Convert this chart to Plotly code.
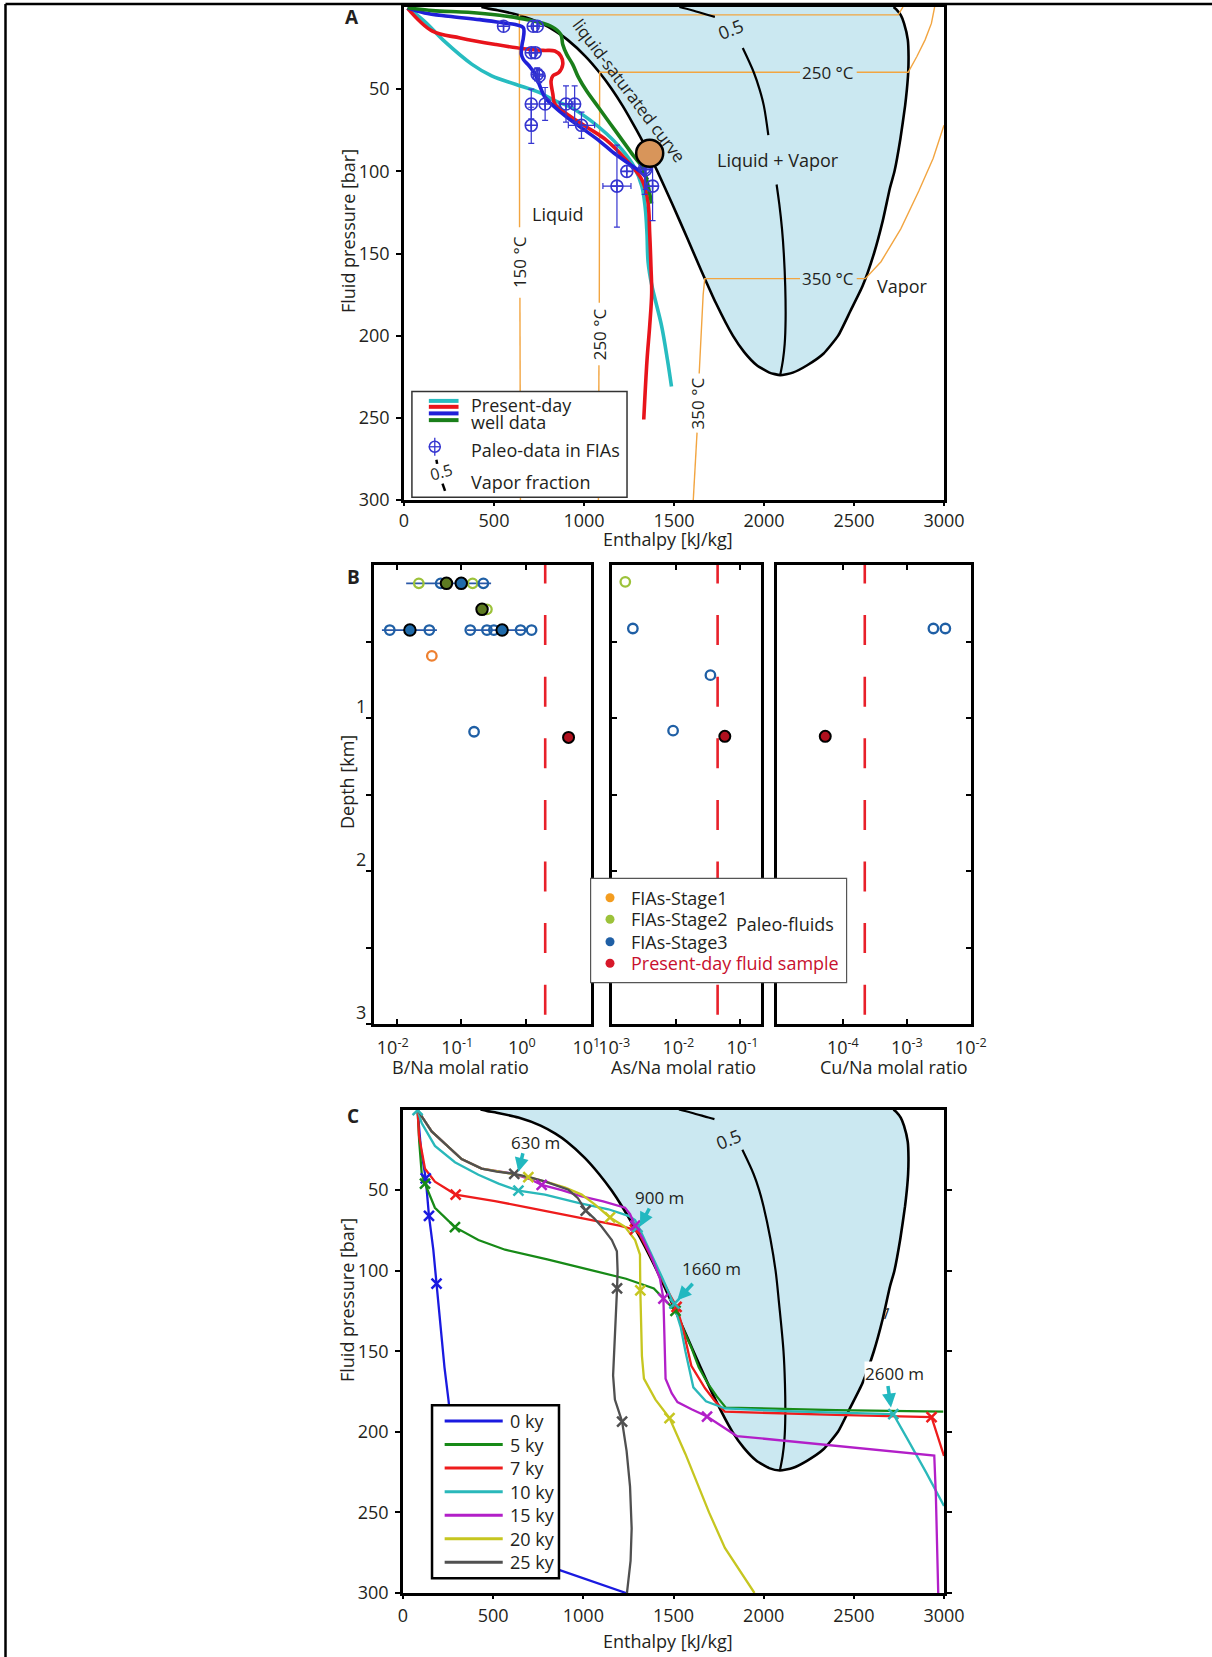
import plotly.graph_objects as go

W, H = 1212, 1657
def fx(px): return px / W
def fy(py): return 1 - py / H

FONT = "Open Sans"
TXT = "#231f20"
FILL = "#cbe8f1"
ISO = "#f2a541"

# ---------------- two-phase dome (enthalpy kJ/kg, pressure bar) ----------------
dome_liq_h = [430, 470, 520, 640, 763, 845, 909, 1008, 1087, 1155, 1214, 1267, 1317, 1364, 1408,
              1491, 1571, 1650, 1732, 1827, 1890, 1960, 2030, 2090]
dome_liq_p = [0, 1, 2, 5, 10, 15, 20, 30, 40, 50, 60, 70, 80, 90, 100,
              120, 140, 160, 180, 200, 210, 218, 222.5, 224]
dome_vap_h = [2160, 2240, 2330, 2412, 2480, 2547, 2611, 2660, 2700, 2725, 2758, 2784, 2794, 2801,
              2803, 2799, 2778, 2760, 2735, 2720]
dome_vap_p = [222.5, 218, 211, 200, 185, 170, 150, 130, 110, 100, 80, 60, 50, 40,
              30, 20, 10, 5, 1.5, 0]

# vapor fraction 0.5 line
vfA_h = [1530, 1600, 1694, 1727, None, 1882, 1944, 1975, 1999, 2024, None, 2070, 2085, 2100, 2110, 2118, 2120, 2115, 2105, 2090]
vfA_p = [0, 2, 5, 6, None, 25, 40, 50, 60, 78, None, 108, 120, 135, 150, 170, 190, 205, 215, 224]
vfC_h = [1530, 1600, 1694, 1727, None, 1882, 1944, 1975, 1999, 2037, 2066, 2085, 2110, 2118, 2120, 2115, 2105, 2090]
vfC_p = [0, 2, 5, 6, None, 25, 40, 50, 60, 80, 100, 120, 150, 170, 190, 205, 215, 224]

# isotherms (panel A)
iso150_h = [647, 644, None, 642, 641, 2746, 2772]
iso150_p = [300, 177, None, 134, 4.8, 4.8, 0]
iso250_h = [1080, 1083, None, 1085, 1087, 2200, None, 2515, 2801, 2850, 2895, 2930, 2948]
iso250_p = [300, 218, None, 180, 39.7, 39.7, None, 39.7, 39.7, 30, 20, 10, 0]
iso350_h = [1607, 1618, 1628, None, 1640, 1662, 1671, 2200, None, 2515, 2563, 2650, 2760, 2860, 2940, 3000]
iso350_p = [300, 275, 259, None, 223, 175, 165.3, 165.3, None, 165.3, 165.3, 155, 135, 112, 92, 72]

# present-day well data (panel A)
wc_h = [20, 114, 224, 378, 487, 619, 751, 838, 926, 1036, 1124, 1212, 1277, 1321, 1340, 1350, 1356, 1376, 1431, 1464, 1486]
wc_p = [0.5, 8.7, 20.8, 34.9, 41.9, 47, 52, 57, 61, 69, 77, 87, 97, 109, 122, 138, 155, 169, 194, 215, 231]
wr_h = [20, 158, 312, 509, 663, 773, 838, 871, 882, 860, 827, 817, 827, 838, 904, 1014, 1124, 1234, 1321, 1354, 1365, 1372, 1376, 1365, 1350, 1332]
wr_p = [0.8, 14.7, 18.8, 22.8, 25.4, 26.4, 26.8, 29.8, 34.9, 39.9, 41.9, 45, 53, 59, 65, 73, 81, 93, 105, 117.5, 138, 158, 174, 194, 215, 251]
wb_h = [20, 114, 246, 421, 553, 619, 663, 663, 656, 652, 663, 696, 729, 751, 784, 838, 904, 992, 1080, 1168, 1245, 1321, 1354]
wb_p = [0.5, 3.6, 5.6, 7.7, 9.7, 10.7, 12.7, 18.8, 22.8, 28.8, 31.9, 35.9, 40.9, 47, 55, 61, 67, 74, 81, 89, 95, 101, 105]
wg_h = [20, 158, 356, 531, 685, 817, 871, 882, 904, 937, 970, 1014, 1080, 1146, 1212, 1278, 1321, 1343, 1365, 1376]
wg_p = [0.5, 2.2, 3.2, 5, 7.7, 11.7, 16.7, 22.8, 28.8, 34.9, 43, 51, 61, 71, 81, 91, 97, 103, 113.5, 119.6]

# paleo data in FIAs (panel A)
pal_h = [553, 718, 740, 707, 729, 740, 751, 707, 784, 900, 948, 707, 986, 1238, 1337, 1343, 1183, 1381]
pal_p = [11.7, 11.7, 11.7, 27.8, 27.8, 41, 42, 59, 59, 59, 59, 72, 72, 100, 98, 99, 109, 109]
pal_eh = [0, 0, 0, 0, 0, 0, 0, 0, 0, 38, 0, 0, 73, 0, 0, 0, 78, 0]
pal_ep = [0, 0, 0, 0, 0, 4, 4, 9, 10, 11, 11, 11, 8, 0, 16, 12, 25, 21]
big_h = [1365]
big_p = [89]

# ---------------- panel B ----------------
depth_ticks = [0.5, 1, 1.5, 2, 2.5, 3]
depth_labels_km = ["1", "2", "3"]
b_s2o_x = [0.022, 0.15, 0.25]
b_s2o_d = [0.12, 0.12, 0.29]
b_s2m_x = [0.059, 0.21]
b_s2m_d = [0.12, 0.29]
b_s3o_x = [0.048, 0.22, 0.0078, 0.032, 0.138, 0.25, 0.32, 0.83, 1.23, 0.158]
b_s3o_d = [0.12, 0.12, 0.425, 0.425, 0.425, 0.425, 0.425, 0.425, 0.425, 1.09]
b_s3m_x = [0.10, 0.016, 0.43]
b_s3m_d = [0.12, 0.425, 0.425]
b_rng_x = [0.014, 0.29, None, 0.0059, 0.042, None, 0.123, 1.0]
b_rng_d = [0.12, 0.12, None, 0.425, 0.425, None, 0.425, 0.425]
b_s1o_x = [0.035]
b_s1o_d = [0.594]
b_pd_x = [4.6]
b_pd_d = [1.127]
b_ref = 2.0

as_s2o_x = [0.0016]
as_s2o_d = [0.11]
as_s3o_x = [0.0021, 0.034, 0.0089]
as_s3o_d = [0.415, 0.72, 1.083]
as_pd_x = [0.057]
as_pd_d = [1.12]
as_ref = 0.044

cu_s3o_x = [0.0026, 0.004]
cu_s3o_d = [0.415, 0.415]
cu_pd_x = [5.3e-5]
cu_pd_d = [1.12]
cu_ref = 2.2e-4

# ---------------- panel C ----------------
c_labels = ["0 ky", "5 ky", "7 ky", "10 ky", "15 ky", "20 ky", "25 ky"]
c_colors = ["#1a1ae0", "#178a17", "#ee1c1c", "#2ab8ba", "#b21fc8", "#c6c620", "#505050"]
c_h = [
    [81, 100, 126, 144, 168, 186, 230, 252, 300, 420, 821, 1237],
    [81, 90, 104, 122, 177, 288, 418, 566, 800, 1018, 1237, 1391, 1434, 1480, 1511, 1540, 1566, 1600, 1640, 1690, 1740, 1790, 2400, 2996],
    [81, 89, 122, 177, 292, 510, 695, 880, 1065, 1200, 1286, 1305, 1360, 1420, 1480, 1517, 1550, 1599, 1640, 1675, 1730, 1785, 2400, 2931, 3000],
    [81, 104, 177, 288, 418, 530, 640, 787, 972, 1139, 1250, 1287, 1320, 1380, 1440, 1500, 1540, 1566, 1590, 1610, 1680, 1785, 2200, 2719, 2800, 2900, 3000],
    [81, 159, 325, 436, 603, 700, 769, 880, 991, 1110, 1231, 1259, 1287, 1330, 1380, 1425, 1444, 1448, 1452, 1456, 1490, 1522, 1600, 1686, 1851, 2400, 2946, 2955, 2962, 2968],
    [81, 159, 325, 436, 560, 695, 800, 900, 991, 1065, 1148, 1231, 1287, 1314, 1316, 1320, 1325, 1336, 1400, 1478, 1566, 1697, 1785, 1949],
    [81, 159, 325, 436, 520, 603, 700, 790, 917, 970, 1013, 1060, 1102, 1158, 1186, 1190, 1187, 1180, 1170, 1165, 1175, 1215, 1240, 1259, 1268, 1262, 1242],
]
c_p = [
    [0.4, 25, 42.7, 66, 87, 108, 160, 180, 230, 270, 284, 300],
    [0.4, 20, 40, 46, 61, 73, 81, 87, 93, 99, 105, 111, 116, 121, 125, 132, 139.5, 148, 160, 170, 178, 185, 186.5, 187.5],
    [0.4, 16.5, 36.7, 44.8, 52.8, 56.8, 60.9, 65, 69, 72, 74.6, 76, 88, 102, 115, 122.4, 135, 159, 167, 173, 181, 187.5, 189.5, 190.9, 215],
    [0.4, 8.5, 22.6, 32.7, 40.5, 46, 50.4, 52.8, 57.9, 61.9, 66, 68.6, 76, 90, 105, 120.5, 135, 150, 162, 172.4, 181, 185.5, 187.5, 189, 205, 225, 246],
    [0.4, 13.6, 30.7, 36.7, 39.7, 43, 46.8, 50, 53.9, 57, 60.9, 64.9, 72, 80, 92, 105, 117.3, 135, 153, 167, 176, 181.5, 186, 190.5, 202.6, 208.7, 214.7, 240, 270, 300],
    [0.4, 13.6, 30.7, 36.7, 39, 42, 45, 48.5, 52.8, 59, 67, 72.8, 81, 90, 112.3, 140, 153, 167, 180, 191.5, 213.7, 250, 272, 300],
    [0.4, 13.6, 30.7, 36.7, 38.5, 39.7, 42, 44.8, 49.8, 55, 62.7, 67.5, 72.8, 81, 88, 100, 111, 130, 150, 165, 180, 193.6, 212, 234, 260, 280, 300],
]
c_mk_h = [
    [126, 144, 186],
    [122, 288, 1511],
    [292, 1286, 1517, 2931],
    [81, 640, 1300, 1505, 2719],
    [769, 1287, 1444, 1686],
    [695, 1148, 1316, 1478],
    [617, 1013, 1187, 1215],
]
c_mk_p = [
    [42.7, 66, 108],
    [46, 73, 125],
    [52.8, 74.6, 122.4, 190.9],
    [0.4, 50.4, 73, 120.5, 189],
    [46.8, 72, 117.3, 190.5],
    [42, 67, 112.3, 191.5],
    [40, 62.7, 111, 193.6],
]
depth_labels = ["630 m", "900 m", "1660 m", "2600 m"]
depth_tip_h = [640, 1314, 1521, 2706]
depth_tip_p = [38.7, 72.6, 118.4, 184.9]
depth_tail_h = [667, 1370, 1614, 2688]
depth_tail_p = [26.2, 60.5, 107.2, 170.7]
depth_lab_h = [732, 1421, 1712, 2728]
depth_lab_p = [20.2, 54.8, 98.8, 163.7]

fig = go.Figure()

def add_dome(xa, ya):
    fig.add_trace(go.Scatter(x=dome_liq_h + dome_vap_h, y=dome_liq_p + dome_vap_p, xaxis=xa, yaxis=ya,
                             mode="lines", fill="toself", fillcolor=FILL,
                             line=dict(color="black", width=2.6, shape="spline", smoothing=0.5),
                             hoverinfo="skip", showlegend=False))

def line(x, y, xa, ya, color, width, shape="linear", dash=None):
    fig.add_trace(go.Scatter(x=x, y=y, xaxis=xa, yaxis=ya, mode="lines", connectgaps=False,
                             line=dict(color=color, width=width, shape=shape, dash=dash),
                             hoverinfo="skip", showlegend=False))

# ---------- Panel A ----------
add_dome("x", "y")
for hh, pp in [(iso150_h, iso150_p), (iso250_h, iso250_p), (iso350_h, iso350_p)]:
    line(hh, pp, "x", "y", ISO, 1.4)
line(vfA_h, vfA_p, "x", "y", "black", 2.2, "spline")
line(wc_h, wc_p, "x", "y", "#27bcc0", 3.6, "spline")
line(wr_h, wr_p, "x", "y", "#e8141b", 3.6, "spline")
line(wb_h, wb_p, "x", "y", "#2020d8", 3.6, "spline")
line(wg_h, wg_p, "x", "y", "#1a7f1a", 3.6, "spline")
fig.add_trace(go.Scatter(x=pal_h, y=pal_p, xaxis="x", yaxis="y", mode="markers",
                         marker=dict(symbol="circle-cross-open", size=12, color="#3535d0", line=dict(width=1.6)),
                         error_x=dict(type="data", array=pal_eh, color="#3535d0", thickness=1.2, width=3),
                         error_y=dict(type="data", array=pal_ep, color="#3535d0", thickness=1.2, width=3),
                         hoverinfo="skip", showlegend=False))
fig.add_trace(go.Scatter(x=big_h, y=big_p, xaxis="x", yaxis="y", mode="markers",
                         marker=dict(size=27, color="#d8955a", line=dict(color="black", width=2.5)),
                         hoverinfo="skip", showlegend=False))

# ---------- Panel B ----------
OPEN_W = 2.3
def pts(x, d, xa, ya, color, filled=False, size=None):
    if filled:
        mk = dict(symbol="circle", size=size or 11.5, color=color, line=dict(color="black", width=2))
    else:
        mk = dict(symbol="circle-open", size=size or 9.5, color=color, line=dict(width=OPEN_W))
    fig.add_trace(go.Scatter(x=x, y=d, xaxis=xa, yaxis=ya, mode="markers", marker=mk,
                             hoverinfo="skip", showlegend=False))

C1, C2, C3, CR = "#ee8030", "#9cc23a", "#1f5fa5", "#b0101e"
for xa, ya, ref in [("x2", "y2", b_ref), ("x3", "y3", as_ref), ("x4", "y4", cu_ref)]:
    line([ref, ref], [3, 0], xa, ya, "#e8202a", 2.6, dash="0px,9.3px,30px,22.3px")
line(b_rng_x, b_rng_d, "x2", "y2", "#2a58a8", 1.8)
pts(b_s2o_x, b_s2o_d, "x2", "y2", C2)
pts(b_s3o_x, b_s3o_d, "x2", "y2", C3)
pts(b_s1o_x, b_s1o_d, "x2", "y2", C1)
pts(b_s2m_x, b_s2m_d, "x2", "y2", "#5d7a22", True)
pts(b_s3m_x, b_s3m_d, "x2", "y2", "#1f6aaa", True)
pts(b_pd_x, b_pd_d, "x2", "y2", CR, True, 11)
pts(as_s2o_x, as_s2o_d, "x3", "y3", C2)
pts(as_s3o_x, as_s3o_d, "x3", "y3", C3)
pts(as_pd_x, as_pd_d, "x3", "y3", CR, True, 11)
pts(cu_s3o_x, cu_s3o_d, "x4", "y4", C3)
pts(cu_pd_x, cu_pd_d, "x4", "y4", CR, True, 11)

# ---------- Panel C ----------
add_dome("x5", "y5")
line(vfC_h, vfC_p, "x5", "y5", "black", 2.2, "spline")
for i in range(len(c_labels)):
    line(c_h[i], c_p[i], "x5", "y5", c_colors[i], 2.3)
for i in range(len(c_labels)):
    fig.add_trace(go.Scatter(x=c_mk_h[i], y=c_mk_p[i], xaxis="x5", yaxis="y5", mode="markers",
                             marker=dict(symbol="x-thin", size=10, color=c_colors[i],
                                         line=dict(color=c_colors[i], width=2.5)),
                             hoverinfo="skip", showlegend=False))

# ---------- axes ----------
tickfont = dict(family=FONT, size=18, color=TXT)
def ax(**kw):
    d = dict(showline=True, linecolor="black", linewidth=2.6, mirror=True, showgrid=False, zeroline=False,
             tickfont=tickfont, tickcolor="black", tickwidth=1.5, ticks="outside", ticklen=5,
             automargin=False)
    d.update(kw)
    return d

enth_ticks = [0, 500, 1000, 1500, 2000, 2500, 3000]
p_ticks = [50, 100, 150, 200, 250, 300]
layout_axes = dict(
    xaxis=ax(domain=[fx(404), fx(944)], range=[0, 3000], tickvals=enth_ticks, anchor="y", ticklen=3,
             ticklabelstandoff=0),
    yaxis=ax(domain=[fy(500), fy(7)], range=[300, 0], tickvals=p_ticks, anchor="x", ticklabelstandoff=3),
    xaxis2=ax(type="log", domain=[fx(373.5), fx(590.5)], range=[-2.36, 1.003], anchor="y2",
              tickvals=[0.01, 0.1, 1, 10], ticktext=["10<sup>-2</sup>", "10<sup>-1</sup>", "10<sup>0</sup>", "10<sup>1</sup>"],
              ticks="inside", mirror="ticks", ticklen=5, ticklabelstandoff=6, ticklabelshift=-4),
    yaxis2=ax(domain=[fy(1024), fy(565)], range=[3, 0], anchor="x2", tickvals=depth_ticks,
              showticklabels=False, ticks="outside"),
    xaxis3=ax(type="log", domain=[fx(612), fx(761)], range=[-3.003, -0.68], anchor="y3",
              tickvals=[0.001, 0.01, 0.1], ticktext=["10<sup>-3</sup>", "10<sup>-2</sup>", "10<sup>-1</sup>"],
              ticks="inside", mirror="ticks", ticklen=5, ticklabelstandoff=6, ticklabelshift=2),
    yaxis3=ax(domain=[fy(1024), fy(565)], range=[3, 0], anchor="x3", tickvals=depth_ticks,
              showticklabels=False, ticks="inside"),
    xaxis4=ax(type="log", domain=[fx(777), fx(971)], range=[-5.03, -1.997], anchor="y4",
              tickvals=[1e-4, 1e-3, 1e-2], ticktext=["10<sup>-4</sup>", "10<sup>-3</sup>", "10<sup>-2</sup>"],
              ticks="inside", mirror="ticks", ticklen=5, ticklabelstandoff=6),
    yaxis4=ax(domain=[fy(1024), fy(565)], range=[3, 0], anchor="x4", side="right",
              tickvals=depth_ticks, showticklabels=False, ticks="inside"),
    xaxis5=ax(domain=[fx(403), fx(944)], range=[0, 3000], tickvals=enth_ticks, anchor="y5", ticklen=3,
              ticklabelstandoff=2),
    yaxis5=ax(domain=[fy(1593), fy(1109.5)], range=[300, 0], tickvals=p_ticks, anchor="x5", mirror="ticks",
              ticklabelstandoff=3),
)

# ---------- annotations ----------
ann = []
def T(text, x, y, xref="paper", yref="paper", size=18, color=TXT, angle=0, xanchor="center",
      bold=False, bg=None):
    a = dict(text=("<b>%s</b>" % text) if bold else text, x=x, y=y, xref=xref, yref=yref, showarrow=False,
             font=dict(family=FONT, size=size, color=color), textangle=angle, xanchor=xanchor,
             yanchor="middle", borderpad=0)
    if bg:
        a["bgcolor"] = bg
    ann.append(a)

# panel letters
T("A", fx(352), fy(17), size=19, bold=True)
T("B", fx(353), fy(577), size=19, bold=True)
T("C", fx(353), fy(1116), size=19, bold=True)
# axis titles
T("Fluid pressure [bar]", fx(348), fy(231), angle=-90)
T("Enthalpy [kJ/kg]", fx(668), fy(539))
T("Depth [km]", fx(347), fy(782), angle=-90)
T("B/Na molal ratio", fx(460), fy(1067))
T("As/Na molal ratio", fx(683), fy(1067))
T("Cu/Na molal ratio", fx(894), fy(1067))
T("Fluid pressure [bar]", fx(347), fy(1300), angle=-90)
T("Enthalpy [kJ/kg]", fx(668), fy(1641))
# depth tick labels of panel B (drawn slightly above their ticks, as in the original)
for lab, yy in zip(depth_labels_km, [706, 859, 1012]):
    T(lab, fx(367), fy(yy), xanchor="right")

# panel A texts
T("liquid-saturated curve", 1250, 51, "x", "y", size=17, angle=53)
T("Liquid + Vapor", 2079, 93, "x", "y")
T("Liquid", 856, 126, "x", "y")
T("Vapor", 2770, 170, "x", "y")
T("0.5", 1815, 13.5, "x", "y", angle=-22)
T("150 °C", 641, 155, "x", "y", size=17, angle=-90)
T("250 °C", 1085, 199, "x", "y", size=17, angle=-90)
T("350 °C", 1630, 241, "x", "y", size=17, angle=-90)
T("250 °C", 2358, 39.7, "x", "y", size=17)
T("350 °C", 2358, 165.3, "x", "y", size=17)
# panel A legend texts
T("Present-day", 367, 242.0, "x", "y", xanchor="left")
T("well data", 367, 252.8, "x", "y", xanchor="left")
T("Paleo-data in FIAs", 367, 269.6, "x", "y", xanchor="left")
T("Vapor fraction", 367, 289, "x", "y", xanchor="left")
T("0.5", 206, 283, "x", "y", size=16, angle=-15)

# panel B legend texts
bl_rows = [897.7, 919.3, 941.7, 963.3]
bl_text = ["FIAs-Stage1", "FIAs-Stage2", "FIAs-Stage3", "Present-day fluid sample"]
bl_tcol = [TXT, TXT, TXT, "#c8102e"]
bl_dcol = ["#f39c1f", "#9cc23a", "#1f5fa5", "#d7182a"]
for r, t, c in zip(bl_rows, bl_text, bl_tcol):
    T(t, fx(629.6), fy(r), color=c, xanchor="left")
T("Paleo-fluids", fx(734.6), fy(924), xanchor="left")

# panel C texts
T("0.5", 1807, 18.5, "x5", "y5", angle=-22)
T("1", 2680, 126, "x5", "y5", size=16, angle=20)
for lab, hx, py in zip(depth_labels, depth_lab_h, depth_lab_p):
    T(lab, hx, py, "x5", "y5", size=17, bg="white" if lab == "2600 m" else None)
for th, tp, sh, sp in zip(depth_tip_h, depth_tip_p, depth_tail_h, depth_tail_p):
    ann.append(dict(x=th, y=tp, ax=sh, ay=sp, xref="x5", yref="y5", axref="x5", ayref="y5", text="",
                    showarrow=True, arrowhead=2, arrowsize=0.8, arrowwidth=3.5, arrowcolor="#22b8c0"))
cl_rows = [193.3, 207.9, 222.5, 237.1, 251.7, 266.3, 280.9]
for r, t in zip(cl_rows, c_labels):
    T(t, 586, r, "x5", "y5", xanchor="left")

# ---------- shapes ----------
shapes = []
# figure frame (top and left)
shapes.append(dict(type="line", xref="paper", yref="paper", x0=fx(5.5), x1=1, y0=fy(4), y1=fy(4),
                   line=dict(color="black", width=2.5)))
shapes.append(dict(type="line", xref="paper", yref="paper", x0=fx(5.5), x1=fx(5.5), y0=fy(4), y1=0,
                   line=dict(color="black", width=2.5)))
# panel A legend
shapes.append(dict(type="rect", xref="x", yref="y", x0=44, x1=1239, y0=234, y1=298.4, layer="above",
                   fillcolor="white", line=dict(color="#333", width=1.5)))
for yy, cc in zip([239.7, 243.3, 247.3, 251.4], ["#27bcc0", "#e8141b", "#2020d8", "#1a7f1a"]):
    shapes.append(dict(type="line", xref="x", yref="y", x0=138, x1=303, y0=yy, y1=yy, layer="above",
                       line=dict(color=cc, width=4)))
shapes.append(dict(type="circle", xref="x", yref="y", xsizemode="pixel", ysizemode="pixel",
                   xanchor=171, yanchor=267.6, x0=-5.5, x1=5.5, y0=-5.5, y1=5.5, layer="above",
                   line=dict(color="#3535d0", width=1.5)))
shapes.append(dict(type="line", xref="x", yref="y", xsizemode="pixel", ysizemode="pixel",
                   xanchor=171, yanchor=267.6, x0=0, x1=0, y0=-9, y1=9, layer="above",
                   line=dict(color="#3535d0", width=1.3)))
shapes.append(dict(type="line", xref="x", yref="y", xsizemode="pixel", ysizemode="pixel",
                   xanchor=171, yanchor=267.6, x0=-6, x1=6, y0=0, y1=0, layer="above",
                   line=dict(color="#3535d0", width=1.3)))
shapes.append(dict(type="line", xref="x", yref="y", x0=180, x1=184, y0=275.5, y1=278, layer="above",
                   line=dict(color="black", width=2.5)))
shapes.append(dict(type="line", xref="x", yref="y", x0=214, x1=228, y0=290, y1=294.5, layer="above",
                   line=dict(color="black", width=2.5)))
# panel B legend
shapes.append(dict(type="rect", xref="paper", yref="paper", x0=fx(590.6), x1=fx(846.6), y0=fy(982.7),
                   y1=fy(878.3), layer="above", fillcolor="white", line=dict(color="#555", width=1.2)))
for r, c in zip(bl_rows, bl_dcol):
    shapes.append(dict(type="circle", xref="paper", yref="paper", xsizemode="pixel", ysizemode="pixel",
                       xanchor=fx(610), yanchor=fy(r), x0=-4.5, x1=4.5, y0=-4.5, y1=4.5, layer="above",
                       fillcolor=c, line=dict(color=c, width=0)))
# panel C legend
shapes.append(dict(type="rect", xref="x5", yref="y5", x0=161, x1=865, y0=183.5, y1=290.8, layer="above",
                   fillcolor="white", line=dict(color="black", width=2.5)))
for r, c in zip(cl_rows, c_colors):
    shapes.append(dict(type="line", xref="x5", yref="y5", x0=231, x1=553, y0=r, y1=r, layer="above",
                       line=dict(color=c, width=3)))

fig.update_layout(
    template="none",
    width=W, height=H, margin=dict(l=0, r=0, t=0, b=0, pad=0), autosize=False,
    paper_bgcolor="white", plot_bgcolor="white", showlegend=False,
    font=dict(family=FONT, size=18, color=TXT),
    annotations=ann, shapes=shapes, **layout_axes,
)
fig.write_html("out.html")
